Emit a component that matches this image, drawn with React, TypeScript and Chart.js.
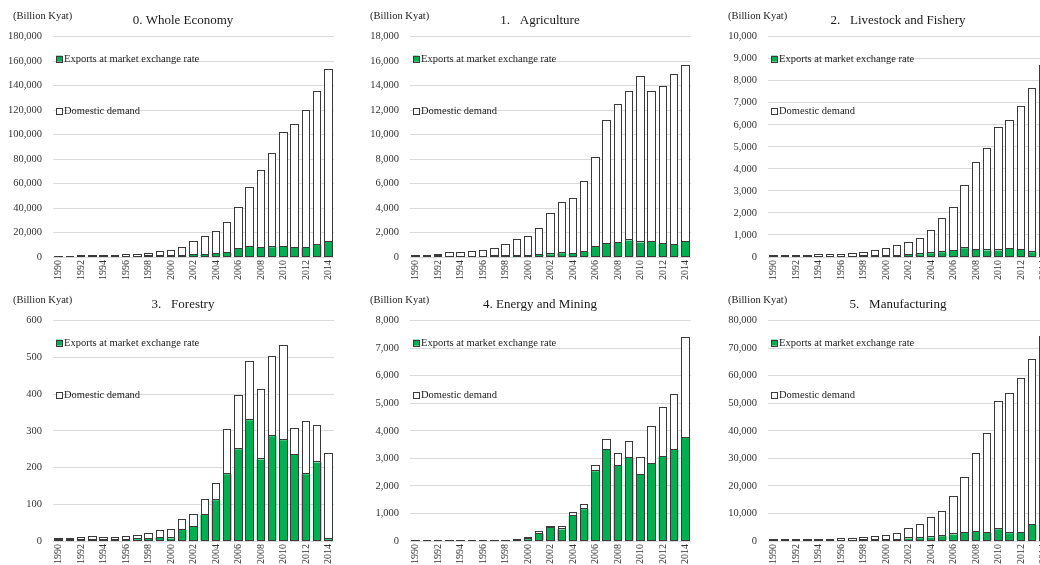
import React, { useEffect, useRef } from "react";
import { Chart, registerables } from "chart.js";

Chart.register(...registerables);

const FONT = '"Liberation Serif", "Times New Roman", serif';

const years = [
  "1990", "1991", "1992", "1993", "1994", "1995", "1996", "1997", "1998", "1999",
  "2000", "2001", "2002", "2003", "2004", "2005", "2006", "2007", "2008", "2009",
  "2010", "2011", "2012", "2013", "2014",
];

const unitLabel = "(Billion Kyat)";
const exportsLabel = "Exports at market exchange rate";
const domesticLabel = "Domestic demand";

// 0. Whole Economy
const wholeExports = [100, 120, 150, 200, 250, 300, 350, 400, 500, 600, 700, 900, 1600, 1600, 2700, 3500, 6500, 8200, 7600, 7900, 8400, 7300, 7600, 10000, 12200];
const wholeDomestic = [200, 280, 350, 500, 650, 800, 1150, 1600, 2200, 3200, 4500, 6400, 10400, 14400, 18000, 24200, 33500, 47800, 62800, 76100, 92500, 100400, 111800, 124600, 140300];

// 1. Agriculture
const agriExports = [40, 40, 60, 30, 30, 30, 30, 50, 80, 80, 100, 190, 220, 300, 270, 430, 840, 1080, 1160, 1350, 1190, 1220, 1060, 970, 1220];
const agriDomestic = [60, 70, 130, 290, 320, 380, 460, 630, 920, 1320, 1520, 2110, 3270, 4140, 4440, 5660, 7250, 9990, 11270, 12100, 13510, 12290, 12800, 13920, 14370];

// 2. Livestock and Fishery
const liveExports = [10, 10, 12, 12, 15, 15, 15, 20, 25, 30, 35, 45, 90, 120, 165, 210, 285, 400, 330, 300, 300, 375, 330, 210, 300];
const liveDomestic = [30, 35, 43, 43, 55, 75, 85, 110, 175, 240, 325, 435, 530, 690, 1005, 1520, 1955, 2830, 3930, 4590, 5550, 5805, 6480, 7420, 8350];

// 3. Forestry
const forestExports = [2, 2, 3, 4, 3, 3, 3, 5, 6, 9, 7, 30, 39, 71, 111, 182, 250, 329, 222, 285, 274, 234, 182, 214, 5];
const forestDomestic = [3, 3, 4, 6, 6, 6, 9, 9, 13, 18, 23, 27, 32, 40, 44, 121, 144, 159, 188, 217, 258, 70, 142, 98, 232];

// 4. Energy and Mining
const energyExports = [7, 8, 8, 9, 9, 8, 9, 10, 9, 11, 60, 265, 470, 420, 920, 1150, 2530, 3320, 2730, 3020, 2410, 2800, 3065, 3300, 3750];
const energyDomestic = [6, 6, 6, 6, 7, 7, 8, 8, 7, 9, 37, 50, 50, 75, 80, 165, 210, 350, 410, 580, 620, 1340, 1765, 2010, 3610];

// 5. Manufacturing
const manuExports = [60, 70, 80, 90, 100, 120, 150, 180, 250, 250, 350, 500, 950, 1000, 1300, 1700, 2400, 2900, 3250, 2900, 4250, 2800, 2900, 5800, 6000];
const manuDomestic = [140, 130, 170, 160, 200, 280, 400, 470, 750, 1150, 1450, 2000, 3450, 4800, 7000, 9000, 13600, 20000, 28150, 36100, 46350, 50500, 56000, 60000, 68000];

const panelTitles = [
  "0. Whole Economy",
  "1.   Agriculture",
  "2.   Livestock and Fishery",
  "3.   Forestry",
  "4. Energy and Mining",
  "5.   Manufacturing",
];
const panelMax = [180000, 18000, 10000, 600, 8000, 80000];
const panelStep = [20000, 2000, 1000, 100, 1000, 10000];
const panelExports = [wholeExports, agriExports, liveExports, forestExports, energyExports, manuExports];
const panelDomestic = [wholeDomestic, agriDomestic, liveDomestic, forestDomestic, energyDomestic, manuDomestic];

const GREEN = "#00b050";
const OUTLINE = "#3a3a3a";

const outlinePlugin = {
  id: "barOutline",
  afterDatasetsDraw(chart: any) {
    const ctx = chart.ctx;
    ctx.save();
    ctx.strokeStyle = OUTLINE;
    ctx.lineWidth = 1;
    chart.data.datasets.forEach((_ds: any, i: number) => {
      const meta = chart.getDatasetMeta(i);
      meta.data.forEach((el: any) => {
        const { x, y, base, width } = el.getProps(["x", "y", "base", "width"], true);
        const l = Math.round(x - width / 2) + 0.5;
        const r = Math.round(x + width / 2) - 0.5;
        const t = Math.round(Math.min(y, base)) - 0.5;
        let b = Math.round(Math.max(y, base)) - 0.5;
        if (b < t) b = t;
        ctx.strokeRect(l, t, r - l, b - t);
      });
    });
    ctx.restore();
  },
};

const annotPlugin = {
  id: "annot",
  afterDraw(chart: any) {
    const { ctx, chartArea } = chart;
    const opts = chart.options.plugins.annot || {};
    ctx.save();
    ctx.font = `10.5px ${FONT}`;
    ctx.fillStyle = "#222";
    ctx.textBaseline = "middle";
    ctx.textAlign = "left";
    ctx.fillText(opts.unit || "", 13, 16.5);
    const fracs: number[] = opts.fracs || [];
    chart.data.datasets.forEach((ds: any, i: number) => {
      const yc = chartArea.top + (chartArea.bottom - chartArea.top) * fracs[i];
      const bx = chartArea.left + 3;
      ctx.fillStyle = ds.backgroundColor;
      ctx.fillRect(bx, yc - 3, 6, 6);
      ctx.strokeStyle = OUTLINE;
      ctx.lineWidth = 1;
      ctx.strokeRect(Math.round(bx) + 0.5, Math.round(yc - 3) + 0.5, 6, 6);
      ctx.fillStyle = "#222";
      ctx.fillText(ds.label, bx + 8, yc + 0.5);
    });
    ctx.restore();
  },
};

function Panel({ idx, left, top }: { idx: number; left: number; top: number }) {
  const ref = useRef<HTMLCanvasElement | null>(null);
  useEffect(() => {
    if (!ref.current) return;
    const chart = new Chart(ref.current, {
      type: "bar",
      data: {
        labels: years,
        datasets: [
          {
            label: exportsLabel,
            data: panelExports[idx],
            backgroundColor: GREEN,
            borderWidth: 0,
            barPercentage: 0.75,
            categoryPercentage: 1.0,
          },
          {
            label: domesticLabel,
            data: panelDomestic[idx],
            backgroundColor: "#ffffff",
            borderWidth: 0,
            barPercentage: 0.75,
            categoryPercentage: 1.0,
          },
        ],
      },
      options: {
        animation: false,
        responsive: true,
        maintainAspectRatio: false,
        layout: { padding: { left: 8, right: 0, top: 0, bottom: 0 } },
        plugins: {
          legend: { display: false },
          tooltip: { enabled: false },
          title: {
            display: true,
            text: panelTitles[idx],
            color: "#1a1a1a",
            font: { family: FONT, size: 13, weight: "normal" },
            padding: { top: 13, bottom: 8 },
          },
          annot: { unit: unitLabel, fracs: [0.1, 0.337] },
        } as any,
        scales: {
          x: {
            stacked: true,
            grid: { display: false, drawTicks: false },
            border: { display: false },
            ticks: {
              autoSkip: false,
              maxRotation: 90,
              minRotation: 90,
              padding: 3,
              color: "#333",
              font: { family: FONT, size: 10 },
              callback: function (this: any, value: any, index: number) {
                return index % 2 === 0 ? this.getLabelForValue(value) : "";
              },
            },
            afterFit: (scale: any) => {
              scale.height = 26;
            },
          },
          y: {
            stacked: true,
            min: 0,
            max: panelMax[idx],
            grid: { color: "#d9d9d9", lineWidth: 1, drawTicks: false },
            border: { display: false },
            ticks: {
              stepSize: panelStep[idx],
              padding: 11,
              color: "#333",
              font: { family: FONT, size: 10.5 },
            },
            afterFit: (scale: any) => {
              scale.width = 45;
            },
          },
          yRight: {
            type: "linear",
            position: "right",
            display: true,
            grid: { display: false, drawTicks: false },
            border: { display: false },
            ticks: { display: false },
            afterFit: (scale: any) => {
              scale.width = 24;
            },
          },
        },
      },
      plugins: [outlinePlugin, annotPlugin],
    } as any);
    return () => chart.destroy();
  }, [idx]);
  return (
    <div style={{ position: "absolute", left, top, width: 358, height: 283 }}>
      <canvas ref={ref} />
    </div>
  );
}

const colLefts = [0, 357, 715];
const rowTops = [0, 284];

export default function App() {
  return (
    <div
      style={{
        position: "absolute",
        left: 0,
        top: 0,
        width: 1040,
        height: 565,
        overflow: "hidden",
        background: "#ffffff",
      }}
    >
      {[0, 1, 2, 3, 4, 5].map((i) => (
        <Panel key={i} idx={i} left={colLefts[i % 3]} top={rowTops[Math.floor(i / 3)]} />
      ))}
    </div>
  );
}
